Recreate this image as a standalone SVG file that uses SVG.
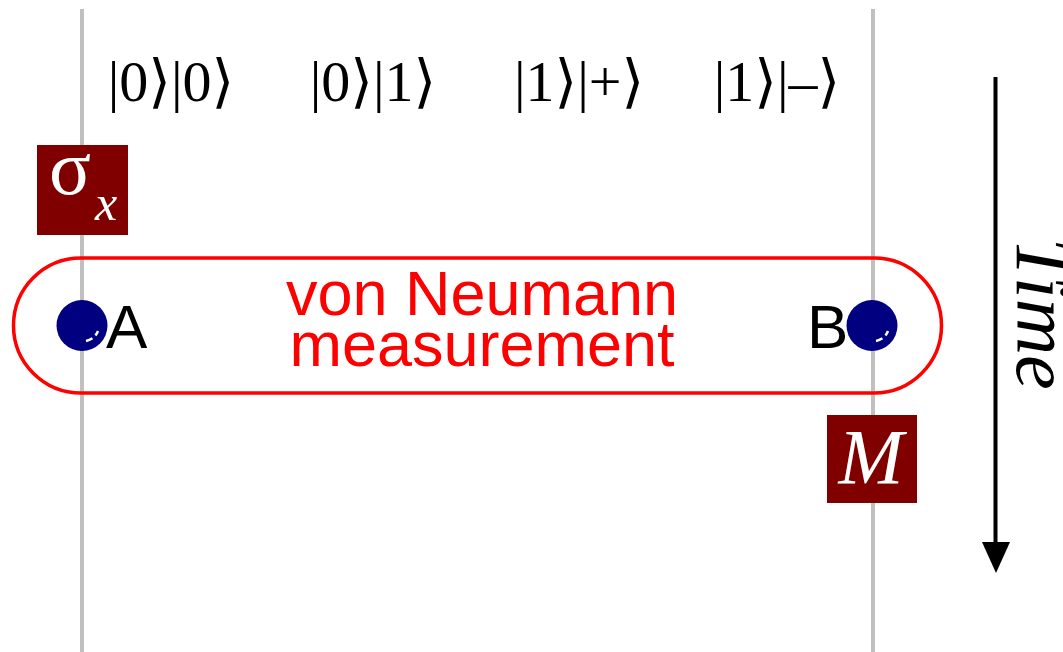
<svg xmlns="http://www.w3.org/2000/svg" width="1063" height="652" viewBox="0 0 1063 652">
<style>
.wire{stroke:#c0c0c0;stroke-width:4;fill:none}
.ket{font-family:"Liberation Serif","DejaVu Serif",serif;font-size:58px;fill:#000;text-anchor:middle}
.box{fill:#800000}
.dot{fill:#000080}
.hl{fill:none;stroke:#fff;stroke-width:2.5;stroke-dasharray:7 4}
.lbl{font-family:"Liberation Sans",Arial,sans-serif;font-size:62px;fill:#000}
.red{font-family:"Liberation Sans",Arial,sans-serif;font-size:63px;fill:#ff0000;text-anchor:middle}
</style>
<g id="wires">
<line class="wire" x1="82" y1="9" x2="82" y2="652"/>
<line class="wire" x1="873" y1="9" x2="873" y2="652"/>
</g>
<g id="kets">
<text class="ket" x="171" y="101">|0⟩|0⟩</text>
<text class="ket" x="373" y="101">|0⟩|1⟩</text>
<text class="ket" x="579" y="101">|1⟩|+⟩</text>
<text class="ket" x="777" y="101">|1⟩|–⟩</text>
</g>
<g id="sigma">
<rect class="box" x="37" y="145" width="91" height="90"/>
<text x="49" y="194" font-family="Liberation Serif, DejaVu Serif, serif" font-size="78" fill="#fff">σ</text>
<text x="95" y="220" font-family="Liberation Serif, DejaVu Serif, serif" font-size="50" font-style="italic" fill="#fff">x</text>
</g>
<g id="measurement">
<rect x="13.5" y="258" width="928" height="135" rx="67.5" ry="67.5" fill="none" stroke="#ff0000" stroke-width="3.5"/>
<text class="red" x="482" y="315">von Neumann</text>
<text class="red" x="482" y="366">measurement</text>
</g>
<g id="A">
<circle class="dot" cx="82" cy="325.5" r="25.5"/>
<path class="hl" d="M86,341 A16,16 0 0 0 98,331"/>
<text class="lbl" x="106" y="348">A</text>
</g>
<g id="B">
<circle class="dot" cx="872" cy="325.5" r="25.5"/>
<path class="hl" d="M876,341 A16,16 0 0 0 888,331"/>
<text class="lbl" x="807" y="348">B</text>
</g>
<g id="M">
<rect class="box" x="827" y="415" width="90" height="88"/>
<text x="871" y="483" font-family="Liberation Serif, DejaVu Serif, serif" font-size="78" font-style="italic" fill="#fff" text-anchor="middle">M</text>
</g>
<g id="connectors">
<line x1="995.5" y1="77" x2="995.5" y2="546" stroke="#000" stroke-width="4"/>
<polygon points="982,542 1010,542 996,573" fill="#000"/>
</g>
<g id="time">
<text transform="translate(1017,238) rotate(90)" font-family="Liberation Serif, DejaVu Serif, serif" font-size="78" font-style="italic" fill="#000">Time</text>
</g>
</svg>
